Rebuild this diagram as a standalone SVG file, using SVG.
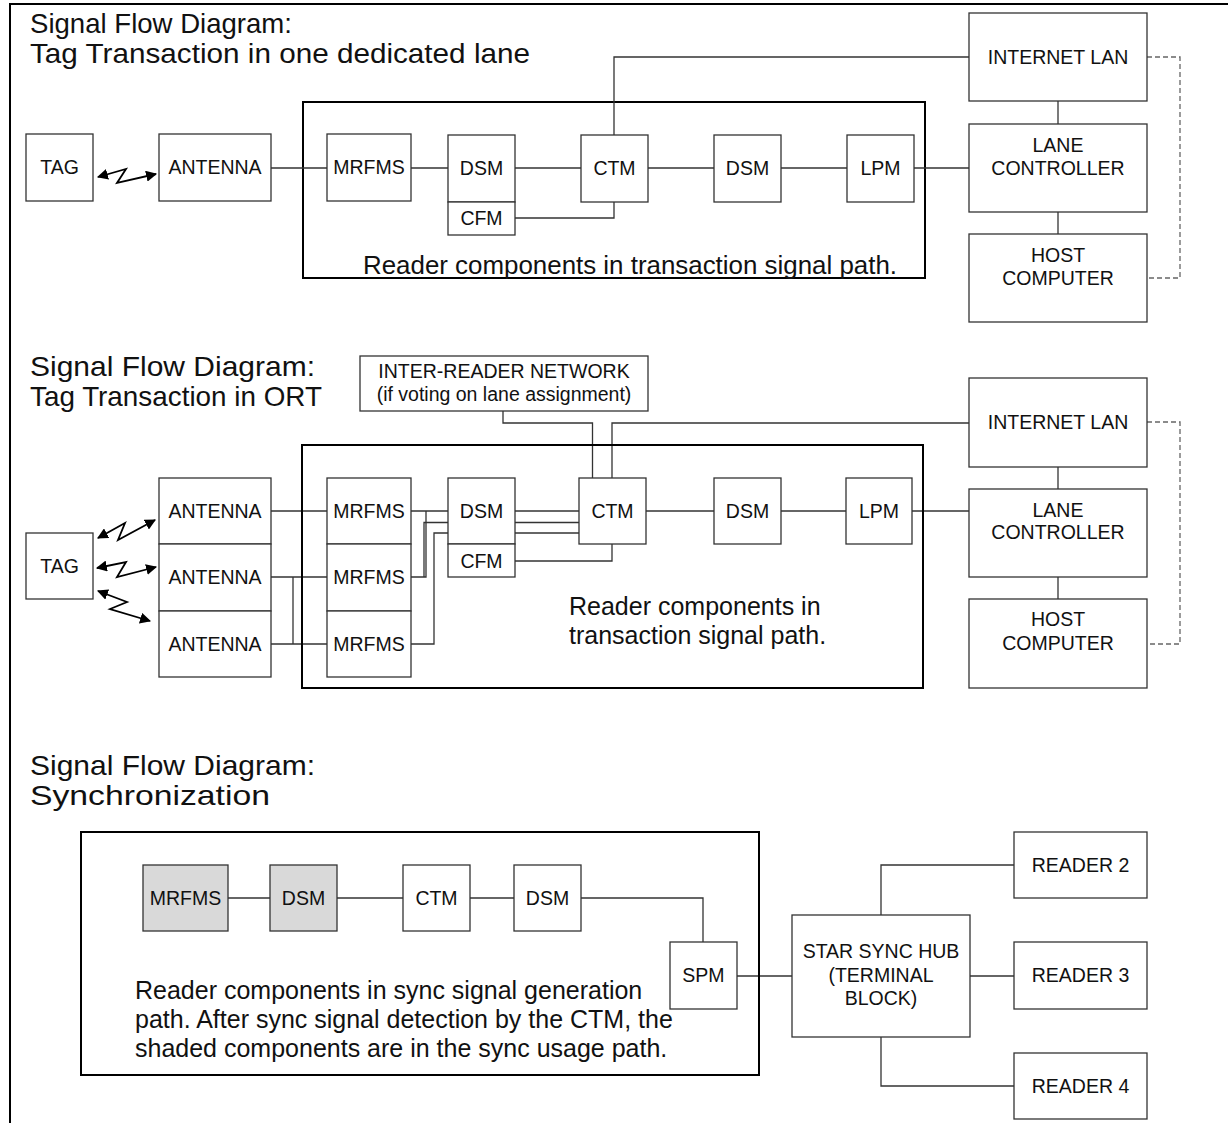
<svg xmlns="http://www.w3.org/2000/svg" width="1228" height="1123" viewBox="0 0 1228 1123">
<style>
.box{fill:#fff;stroke:#333;stroke-width:1.3}
.shade{fill:#d9d9d9;stroke:#333;stroke-width:1.3}
.thick{fill:none;stroke:#000;stroke-width:2}
.wire{fill:none;stroke:#333;stroke-width:1.3}
.dash{fill:none;stroke:#666;stroke-width:1.3;stroke-dasharray:5,3}
.zz{fill:none;stroke:#000;stroke-width:1.8}
text{font-family:"Liberation Sans",Arial,sans-serif;fill:#111}
.lbl{font-size:19.5px;text-anchor:middle}
.title{font-size:27.5px}
.title2{font-size:28.5px}
.note{font-size:25px}
</style>
<defs>
<marker id="ah" viewBox="0 0 10 10" refX="9" refY="5" markerWidth="11" markerHeight="11" markerUnits="userSpaceOnUse" orient="auto-start-reverse">
<path d="M0,0 L10,5 L0,10 z" fill="#000"/>
</marker>
</defs>
<rect width="1228" height="1123" fill="#fff"/>
<polyline class="thick" points="10,1123 10,4 1228,4"/>

<!-- Section 1 -->
<text class="title" x="30" y="33" textLength="262" lengthAdjust="spacingAndGlyphs">Signal Flow Diagram:</text>
<text class="title" x="30" y="63" textLength="500" lengthAdjust="spacingAndGlyphs">Tag Transaction in one dedicated lane</text>
<rect class="thick" x="303" y="102" width="622" height="176"/>
<text class="note" x="363" y="274" textLength="534" lengthAdjust="spacingAndGlyphs">Reader components in transaction signal path.</text>

<g id="connectors">
<g id="c1">
<polyline class="zz" points="98,177 126,169 117,183 156,174" marker-start="url(#ah)" marker-end="url(#ah)"/>
<line class="wire" x1="271" y1="168" x2="327" y2="168"/>
<line class="wire" x1="411" y1="168" x2="448" y2="168"/>
<line class="wire" x1="515" y1="168" x2="581" y2="168"/>
<line class="wire" x1="648" y1="168" x2="714" y2="168"/>
<line class="wire" x1="781" y1="168" x2="847" y2="168"/>
<line class="wire" x1="914" y1="168" x2="969" y2="168"/>
<polyline class="wire" points="614,135 614,57 969,57"/>
<polyline class="wire" points="515,218 614,218 614,202"/>
<line class="wire" x1="1058" y1="101" x2="1058" y2="124"/>
<line class="wire" x1="1058" y1="212" x2="1058" y2="234"/>
<polyline class="dash" points="1147,57 1180,57 1180,278 1147,278"/>
</g>
<g id="c2">
<polyline class="zz" points="98,538 125,523 118,540 155,520" marker-start="url(#ah)" marker-end="url(#ah)"/>
<polyline class="zz" points="97,568 126,562 117,577 156,567" marker-start="url(#ah)" marker-end="url(#ah)"/>
<polyline class="zz" points="98,591 127,602 110,609 150,621" marker-start="url(#ah)" marker-end="url(#ah)"/>
<line class="wire" x1="271" y1="511" x2="327" y2="511"/>
<line class="wire" x1="271" y1="577" x2="327" y2="577"/>
<line class="wire" x1="271" y1="644" x2="327" y2="644"/>
<line class="wire" x1="293" y1="577" x2="293" y2="644"/>
<line class="wire" x1="411" y1="511" x2="448" y2="511"/>
<polyline class="wire" points="411,577 426,577 426,511"/>
<polyline class="wire" points="424,577 424,522.5 448,522.5"/>
<polyline class="wire" points="411,644 434,644 434,533 448,533"/>
<line class="wire" x1="515" y1="511" x2="579" y2="511"/>
<line class="wire" x1="515" y1="522.5" x2="579" y2="522.5"/>
<line class="wire" x1="515" y1="533" x2="579" y2="533"/>
<polyline class="wire" points="515,561 612,561 612,544"/>
<polyline class="wire" points="503,411 503,423 592.5,423 592.5,478"/>
<polyline class="wire" points="612,478 612,423 969,423"/>
<line class="wire" x1="646" y1="511" x2="714" y2="511"/>
<line class="wire" x1="781" y1="511" x2="846" y2="511"/>
<line class="wire" x1="912" y1="511" x2="969" y2="511"/>
<line class="wire" x1="1058" y1="467" x2="1058" y2="489"/>
<line class="wire" x1="1058" y1="577" x2="1058" y2="599"/>
<polyline class="dash" points="1147,422 1180,422 1180,644 1147,644"/>
</g>
<g id="c3">
<line class="wire" x1="228" y1="898" x2="270" y2="898"/>
<line class="wire" x1="337" y1="898" x2="403" y2="898"/>
<line class="wire" x1="470" y1="898" x2="514" y2="898"/>
<polyline class="wire" points="581,898 703,898 703,942"/>
<line class="wire" x1="737" y1="976" x2="792" y2="976"/>
<polyline class="wire" points="881,915 881,865 1014,865"/>
<line class="wire" x1="970" y1="976" x2="1014" y2="976"/>
<polyline class="wire" points="881,1037 881,1086 1014,1086"/>
</g>
</g>

<g id="s1-tag"><rect class="box" x="26" y="134" width="67" height="67"/><text class="lbl" x="59.5" y="174">TAG</text></g>
<g id="s1-antenna"><rect class="box" x="159" y="134" width="112" height="67"/><text class="lbl" x="215" y="174">ANTENNA</text></g>
<g id="s1-mrfms"><rect class="box" x="327" y="134" width="84" height="67"/><text class="lbl" x="369" y="174">MRFMS</text></g>
<g id="s1-dsm"><rect class="box" x="448" y="135" width="67" height="67"/><text class="lbl" x="481.5" y="175">DSM</text></g>
<g id="s1-cfm"><rect class="box" x="448" y="202" width="67" height="33"/><text class="lbl" x="481.5" y="225">CFM</text></g>
<g id="s1-ctm"><rect class="box" x="581" y="135" width="67" height="67"/><text class="lbl" x="614.5" y="175">CTM</text></g>
<g id="s1-dsm2"><rect class="box" x="714" y="135" width="67" height="67"/><text class="lbl" x="747.5" y="175">DSM</text></g>
<g id="s1-lpm"><rect class="box" x="847" y="135" width="67" height="67"/><text class="lbl" x="880.5" y="175">LPM</text></g>
<g id="s1-lan"><rect class="box" x="969" y="13" width="178" height="88"/><text class="lbl" x="1058" y="64">INTERNET LAN</text></g>
<g id="s1-lc"><rect class="box" x="969" y="124" width="178" height="88"/><text class="lbl" x="1058" y="152">LANE</text><text class="lbl" x="1058" y="175">CONTROLLER</text></g>
<g id="s1-host"><rect class="box" x="969" y="234" width="178" height="88"/><text class="lbl" x="1058" y="262">HOST</text><text class="lbl" x="1058" y="285">COMPUTER</text></g>

<!-- Section 2 -->
<text class="title2" x="30" y="376" textLength="285" lengthAdjust="spacingAndGlyphs">Signal Flow Diagram:</text>
<text class="title2" x="30" y="406" textLength="292" lengthAdjust="spacingAndGlyphs">Tag Transaction in ORT</text>
<rect class="thick" x="302" y="445" width="621" height="243"/>
<text class="note" x="569" y="615">Reader components in</text>
<text class="note" x="569" y="644">transaction signal path.</text>

<g id="s2-irn"><rect class="box" x="360" y="356" width="288" height="55"/><text class="lbl" x="504" y="378">INTER-READER NETWORK</text><text class="lbl" x="504" y="401">(if voting on lane assignment)</text></g>
<g id="s2-tag"><rect class="box" x="26" y="533" width="67" height="66"/><text class="lbl" x="59.5" y="573">TAG</text></g>
<g id="s2-ant1"><rect class="box" x="159" y="478" width="112" height="66"/><text class="lbl" x="215" y="518">ANTENNA</text></g>
<g id="s2-ant2"><rect class="box" x="159" y="544" width="112" height="67"/><text class="lbl" x="215" y="584">ANTENNA</text></g>
<g id="s2-ant3"><rect class="box" x="159" y="611" width="112" height="66"/><text class="lbl" x="215" y="651">ANTENNA</text></g>
<g id="s2-mr1"><rect class="box" x="327" y="478" width="84" height="66"/><text class="lbl" x="369" y="518">MRFMS</text></g>
<g id="s2-mr2"><rect class="box" x="327" y="544" width="84" height="67"/><text class="lbl" x="369" y="584">MRFMS</text></g>
<g id="s2-mr3"><rect class="box" x="327" y="611" width="84" height="66"/><text class="lbl" x="369" y="651">MRFMS</text></g>
<g id="s2-dsm"><rect class="box" x="448" y="478" width="67" height="66"/><text class="lbl" x="481.5" y="518">DSM</text></g>
<g id="s2-cfm"><rect class="box" x="448" y="544" width="67" height="33"/><text class="lbl" x="481.5" y="568">CFM</text></g>
<g id="s2-ctm"><rect class="box" x="579" y="478" width="67" height="66"/><text class="lbl" x="612.5" y="518">CTM</text></g>
<g id="s2-dsm2"><rect class="box" x="714" y="478" width="67" height="66"/><text class="lbl" x="747.5" y="518">DSM</text></g>
<g id="s2-lpm"><rect class="box" x="846" y="478" width="66" height="66"/><text class="lbl" x="879" y="518">LPM</text></g>
<g id="s2-lan"><rect class="box" x="969" y="378" width="178" height="89"/><text class="lbl" x="1058" y="429">INTERNET LAN</text></g>
<g id="s2-lc"><rect class="box" x="969" y="489" width="178" height="88"/><text class="lbl" x="1058" y="517">LANE</text><text class="lbl" x="1058" y="539">CONTROLLER</text></g>
<g id="s2-host"><rect class="box" x="969" y="599" width="178" height="89"/><text class="lbl" x="1058" y="626">HOST</text><text class="lbl" x="1058" y="650">COMPUTER</text></g>

<!-- Section 3 -->
<text class="title2" x="30" y="775" textLength="285" lengthAdjust="spacingAndGlyphs">Signal Flow Diagram:</text>
<text class="title2" x="30" y="805" textLength="240" lengthAdjust="spacingAndGlyphs">Synchronization</text>
<rect class="thick" x="81" y="832" width="678" height="243"/>
<text class="note" x="135" y="999">Reader components in sync signal generation</text>
<text class="note" x="135" y="1028">path. After sync signal detection by the CTM, the</text>
<text class="note" x="135" y="1057">shaded components are in the sync usage path.</text>

<g id="s3-mrfms"><rect class="shade" x="143" y="865" width="85" height="66"/><text class="lbl" x="185.5" y="905">MRFMS</text></g>
<g id="s3-dsm"><rect class="shade" x="270" y="865" width="67" height="66"/><text class="lbl" x="303.5" y="905">DSM</text></g>
<g id="s3-ctm"><rect class="box" x="403" y="865" width="67" height="66"/><text class="lbl" x="436.5" y="905">CTM</text></g>
<g id="s3-dsm2"><rect class="box" x="514" y="865" width="67" height="66"/><text class="lbl" x="547.5" y="905">DSM</text></g>
<g id="s3-spm"><rect class="box" x="670" y="942" width="67" height="67"/><text class="lbl" x="703.5" y="982">SPM</text></g>
<g id="s3-hub"><rect class="box" x="792" y="915" width="178" height="122"/><text class="lbl" x="881" y="958">STAR SYNC HUB</text><text class="lbl" x="881" y="982">(TERMINAL</text><text class="lbl" x="881" y="1005">BLOCK)</text></g>
<g id="s3-r2"><rect class="box" x="1014" y="832" width="133" height="66"/><text class="lbl" x="1080.5" y="872">READER 2</text></g>
<g id="s3-r3"><rect class="box" x="1014" y="942" width="133" height="67"/><text class="lbl" x="1080.5" y="982">READER 3</text></g>
<g id="s3-r4"><rect class="box" x="1014" y="1053" width="133" height="66"/><text class="lbl" x="1080.5" y="1093">READER 4</text></g>
</svg>
